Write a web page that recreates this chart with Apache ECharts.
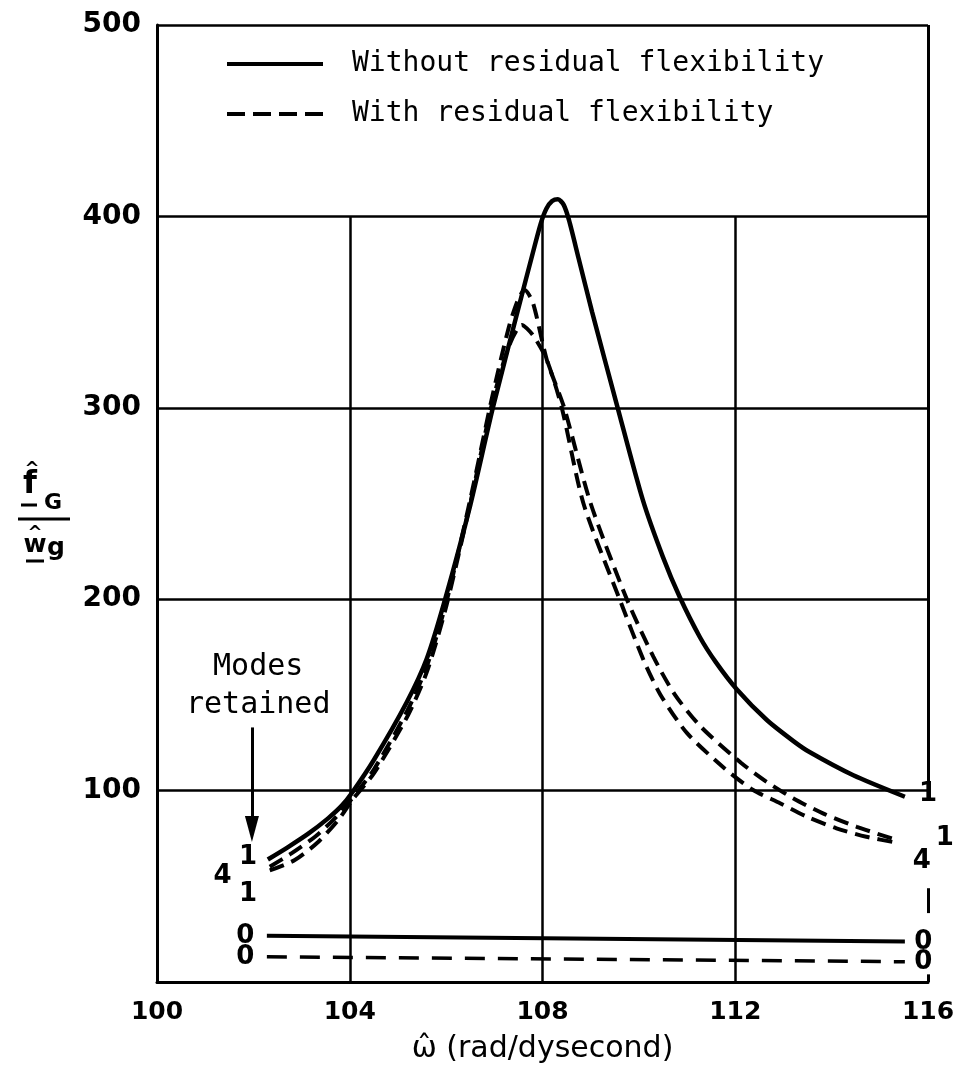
<!DOCTYPE html>
<html>
<head>
<meta charset="utf-8">
<script src="https://cdn.jsdelivr.net/npm/echarts@6/dist/echarts.min.js"></script>
<style>html,body{margin:0;background:#fff}#chart{width:971px;height:1079px}</style>
</head>
<body>
<div id="chart"></div>
<script>
// omega, |f_G / w_g|
const solidFour = [
    [102.3, 64], [102.72, 70.5], [103.14, 77.5], [103.55, 85.5], [103.83, 92], [104.04, 98.6],
    [104.5, 116], [105.18, 146], [105.6, 169], [105.98, 200], [106.5, 249], [106.97, 300],
    [107.5, 352], [107.8, 381], [107.96, 396], [108.08, 404], [108.2, 408], [108.32, 409],
    [108.44, 406], [108.55, 398], [108.75, 378], [109.03, 350], [109.56, 300], [110.08, 252],
    [110.5, 222], [110.85, 201], [111.27, 180], [111.6, 167], [112.03, 153], [112.65, 137],
    [113.2, 126], [113.55, 120], [114.45, 108], [115.52, 96.8]
];
const dashedUpper = [
    [102.34, 60.2], [102.79, 67.2], [103.28, 75.9], [103.69, 85.5], [104.05, 96], [104.5, 111],
    [105.2, 142], [105.6, 165], [106.0, 198], [106.5, 252], [106.95, 305], [107.3, 342],
    [107.5, 357], [107.63, 361.5], [107.8, 355], [108.09, 325], [108.45, 300], [109.0, 250],
    [109.75, 200], [110.3, 170], [110.75, 150], [111.3, 133], [112.13, 114.3], [112.65, 104.6],
    [113.2, 96], [113.82, 88.1], [114.52, 81.1], [115.35, 74.2]
];
const dashedLower = [
    [102.34, 58.3], [102.86, 63.7], [103.35, 73.3], [103.76, 84.6], [104.05, 95], [104.5, 109],
    [105.2, 139], [105.6, 162], [106.0, 196], [106.5, 250], [106.95, 302], [107.3, 332],
    [107.57, 343.3], [107.8, 338], [108.09, 325], [108.4, 300], [108.85, 250], [109.6, 200],
    [110.1, 168], [110.45, 150], [111.0, 130], [111.78, 111.6], [112.37, 100.3], [112.93, 93.4],
    [113.48, 86.4], [114.1, 80.3], [114.72, 75.9], [115.41, 72.5]
];
const solidZero = [[102.28, 24.2], [115.52, 21.1]];
const dashedZero = [[102.28, 13.2], [115.52, 10.6]];

const gridX = [104, 108, 112];
// right frame is broken where the mode labels sit: [from, to] in y
const rightFrame = [[500, 104], [49, 36], [4, 0]];
const arrowX = 101.97;
const arrowFrom = 133;
const arrowTo = 80;

// mode count labels: omega, value, text
const modeLabels = [
    [101.89, 65, '1'], [101.36, 55, '4'], [101.89, 46, '1'],
    [101.83, 24, '0'], [101.83, 13, '0'],
    [116.0, 98, '1'], [115.87, 63, '4'], [116.35, 75, '1'],
    [115.9, 21, '0'], [115.9, 10.5, '0']
];
const noteLabels = [[102.1, 164.6, 'Modes'], [102.1, 144.7, 'retained']];

const NAME_A = 'Without residual flexibility';
const NAME_B = 'With residual flexibility';
const FONT = 'DejaVu Sans';
const MONO = 'DejaVu Sans Mono';

const chart = echarts.init(document.getElementById('chart'));

const frameLines = gridX.map(x => [{ coord: [x, 0] }, { coord: [x, 400] }])
    .concat(rightFrame.map(r => [
        { coord: [116, r[0]], lineStyle: { width: 3 } }, { coord: [116, r[1]] }
    ]));

chart.setOption({
    backgroundColor: '#fff',
    animation: false,
    color: ['#000'],
    grid: { left: 157, right: 43, top: 25, bottom: 97 },
    legend: {
        data: [
            { name: NAME_A, icon: 'path://M0,0H96V4H0Z' },
            { name: NAME_B, icon: 'path://M0,0H18V4H0Z M26,0H44V4H26Z M52,0H70V4H52Z M78,0H96V4H78Z' }
        ],
        orient: 'vertical',
        left: 222, top: 44,
        itemWidth: 96, itemHeight: 4, itemGap: 20,
        selectedMode: false,
        itemStyle: { color: '#000' },
        textStyle: { fontFamily: MONO, fontSize: 28, lineHeight: 30, color: '#000', padding: [0, 0, 0, 24] }
    },
    xAxis: {
        type: 'value', min: 100, max: 116, interval: 4,
        axisLine: { show: true, lineStyle: { color: '#000', width: 3 } },
        axisTick: { show: false },
        splitLine: { show: false },
        axisLabel: { color: '#000', fontFamily: FONT, fontWeight: 'bold', fontSize: 25, margin: 18 },
        name: 'ω\u0302 (rad/dysecond)',
        nameLocation: 'middle', nameGap: 52,
        nameTextStyle: { color: '#000', fontFamily: FONT, fontSize: 30 }
    },
    yAxis: {
        type: 'value', min: 0, max: 500, interval: 100,
        axisLine: { show: true, lineStyle: { color: '#000', width: 3 } },
        axisTick: { show: false },
        splitLine: { show: true, lineStyle: { color: '#000', width: 2.5 } },
        axisLabel: {
            color: '#000', fontFamily: FONT, fontWeight: 'bold', fontSize: 28, margin: 16,
            formatter: v => (v === 0 ? '' : v)
        }
    },
    graphic: [
        { type: 'text', style: { x: 30, y: 501, text: 'f', font: 'bold 32px ' + FONT, fill: '#000', textAlign: 'center', textVerticalAlign: 'bottom' } },
        { type: 'text', style: { x: 32, y: 478, text: '^', font: 'bold 18px ' + FONT, fill: '#000', textAlign: 'center', textVerticalAlign: 'bottom' } },
        { type: 'line', shape: { x1: 21, y1: 505, x2: 37, y2: 505 }, style: { stroke: '#000', lineWidth: 3 } },
        { type: 'text', style: { x: 53, y: 514, text: 'G', font: 'bold 22px ' + FONT, fill: '#000', textAlign: 'center', textVerticalAlign: 'bottom' } },
        { type: 'line', shape: { x1: 18, y1: 519, x2: 70, y2: 519 }, style: { stroke: '#000', lineWidth: 3 } },
        { type: 'text', style: { x: 35, y: 558, text: 'w', font: 'bold 25px ' + FONT, fill: '#000', textAlign: 'center', textVerticalAlign: 'bottom' } },
        { type: 'text', style: { x: 35, y: 542, text: '^', font: 'bold 18px ' + FONT, fill: '#000', textAlign: 'center', textVerticalAlign: 'bottom' } },
        { type: 'line', shape: { x1: 26, y1: 561, x2: 44, y2: 561 }, style: { stroke: '#000', lineWidth: 3 } },
        { type: 'text', style: { x: 56, y: 561, text: 'g', font: 'bold 25px ' + FONT, fill: '#000', textAlign: 'center', textVerticalAlign: 'bottom' } }
    ],
    series: [
        {
            name: NAME_A, type: 'line', data: solidFour, smooth: 0.25, symbol: 'none',
            lineStyle: { color: '#000', width: 4.5 },
            markLine: {
                silent: true, symbol: 'none', label: { show: false },
                lineStyle: { color: '#000', width: 2.5, type: 'solid' },
                data: frameLines.concat([[
                    { coord: [arrowX, arrowFrom], symbol: 'none' },
                    { coord: [arrowX, arrowTo], symbol: 'triangle', symbolSize: [14, 26], symbolRotate: 180,
                      lineStyle: { width: 3 } }
                ]])
            }
        },
        { name: NAME_B, type: 'line', data: dashedUpper, smooth: 0.25, symbol: 'none',
          lineStyle: { color: '#000', width: 4, type: [15, 8] } },
        { name: NAME_B, type: 'line', data: dashedLower, smooth: 0.25, symbol: 'none',
          lineStyle: { color: '#000', width: 4, type: [15, 8] } },
        { name: NAME_A, type: 'line', data: solidZero, symbol: 'none',
          lineStyle: { color: '#000', width: 4 } },
        { name: NAME_B, type: 'line', data: dashedZero, symbol: 'none',
          lineStyle: { color: '#000', width: 3.5, type: [20, 13] } },
        {
            type: 'scatter', data: modeLabels, symbolSize: 0, silent: true, clip: false,
            itemStyle: { opacity: 1 },
            label: { show: true, position: [0, 0], align: 'center', verticalAlign: 'middle',
                     formatter: p => p.data[2], color: '#000', fontFamily: FONT, fontWeight: 'bold', fontSize: 26 }
        },
        {
            type: 'scatter', data: noteLabels, symbolSize: 0, silent: true, clip: false,
            itemStyle: { opacity: 1 },
            label: { show: true, position: [0, 0], align: 'center', verticalAlign: 'middle',
                     formatter: p => p.data[2], color: '#000', fontFamily: MONO, fontSize: 30 }
        }
    ]
});
</script>
</body>
</html>
